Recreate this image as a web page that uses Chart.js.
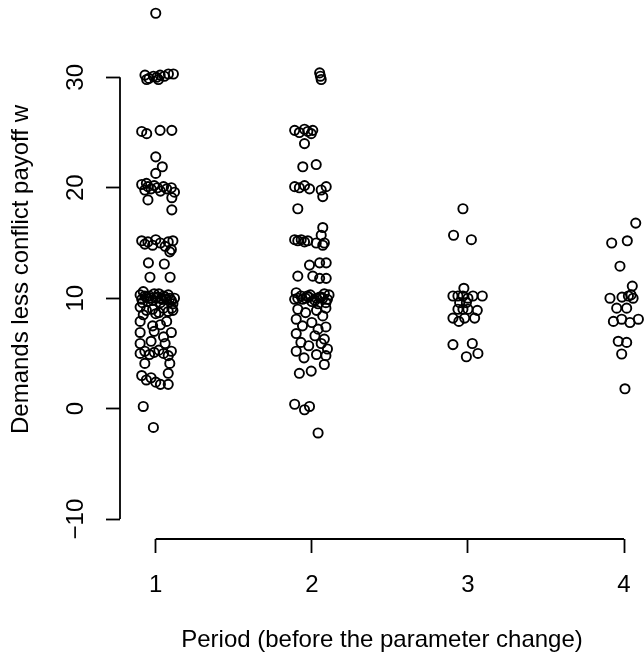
<html>
<head>
<title>Demands by period</title>
<style>
  body { margin: 0; background: #fff; }
  #wrap { width: 644px; height: 656px; position: relative; }
</style>
</head>
<body>
<div id="wrap"><canvas id="strip-chart"></canvas></div>
<script src="https://cdn.jsdelivr.net/npm/chart.js@4/dist/chart.umd.min.js"></script>
<script>
    // periods on the x axis and the y tick marks
    var periods = [1, 2, 3, 4];
    var yTicks = [-10, 0, 10, 20, 30];

    // demands less conflict payoff w, one list per period
    var period1Values = [35.8, 30.2, 29.9, 30.1, 30.0, 30.2, 30.1, 30.3, 30.3, 29.8, 29.8, 25.1, 24.9, 25.2, 25.2, 22.8, 21.9, 21.3,
        20.3, 19.8, 20.1, 19.9, 20.2, 20.0, 19.7, 20.1, 19.9, 20.0, 19.6, 20.4, 18.9, 19.1, 18.0,
        15.2, 14.9, 15.1, 14.8, 15.3, 15.0, 14.7, 15.1, 14.4, 15.2, 14.2, 13.2, 13.1, 11.9, 11.9,
        10.6, 10.3, 10.1, 9.9, 10.2, 9.8, 10.0, 10.4, 9.9, 10.1, 10.3, 9.8, 10.0, 10.2, 9.7, 10.0, 10.1, 9.6, 10.2, 9.9, 10.0, 9.5, 10.4, 10.0, 9.6,
        9.1, 9.2, 8.9, 9.0, 8.7, 9.1, 8.8, 8.5, 8.6, 8.9, 7.9, 7.9, 7.5, 7.6, 6.9, 7.0, 6.9, 6.5, 5.9, 6.1, 5.9,
        5.0, 5.2, 4.9, 5.1, 5.3, 5.0, 4.8, 5.2, 4.1, 4.1, 3.0, 2.6, 2.8, 2.4, 2.2, 3.2, 2.2, 0.2, -1.7];
    var period2Values = [30.4, 29.8, 30.1, 25.2, 25.0, 25.3, 25.1, 24.9, 25.2, 24.0, 21.9, 22.1,
        20.1, 20.0, 20.2, 19.9, 20.1, 19.8, 19.2, 18.1, 16.4, 15.7, 15.3, 15.2, 15.3, 15.1, 15.2, 15.0, 15.0, 14.8,
        13.0, 13.2, 13.2, 12.0, 12.0, 11.8, 11.8,
        10.5, 10.2, 9.9, 10.0, 10.3, 9.8, 10.1, 10.4, 9.9, 10.0, 10.2, 9.7, 10.0, 10.1, 9.6, 10.3, 9.9, 10.1, 9.5, 10.0,
        9.0, 9.1, 8.7, 8.9, 8.4, 8.1, 7.8, 7.5, 7.4, 7.2, 6.8, 6.6, 6.3, 6.0, 5.9, 5.7, 5.4, 5.2, 4.9, 4.8, 4.6,
        3.2, 3.4, 4.0, 0.4, -0.1, 0.2, -2.2];
    var period3Values = [18.1, 15.7, 15.3, 10.9, 10.2, 10.2, 10.2, 10.2, 10.2, 10.0, 9.6, 9.6, 9.0, 9.0, 9.0, 8.9,
        8.2, 7.9, 8.2, 8.2, 5.8, 5.9, 4.7, 5.0];
    var period4Values = [16.8, 15.0, 15.2, 12.9, 11.1, 10.0, 10.1, 10.2, 10.0, 10.3, 9.1, 9.1, 7.9, 8.1, 7.8, 8.1,
        6.1, 6.0, 4.95, 1.8];

    // horizontal jitter of each point around its period (same order as the values)
    var period1Jitter = [0.00, -0.069, -0.043, -0.015, 0.006, 0.028, 0.055, 0.081, 0.113, -0.058, 0.017, -0.09, -0.058, 0.028, 0.103, 0.0, 0.042, 0.0,
        -0.09, -0.07, -0.05, -0.03, -0.01, 0.01, 0.03, 0.05, 0.07, 0.10, 0.12, -0.06, -0.05, 0.103, 0.103,
        -0.09, -0.07, -0.05, -0.02, 0.0, 0.03, 0.06, 0.08, 0.10, 0.11, 0.09, -0.047, 0.055, -0.037, 0.092,
        -0.08, -0.1, -0.06, -0.09, -0.04, -0.02, 0.0, 0.02, 0.04, 0.06, 0.08, 0.10, 0.12, -0.07, -0.05, -0.03, 0.01, 0.03, 0.05, 0.07, 0.09, 0.11, -0.01, 0.035, -0.085,
        0.103, -0.1, -0.06, -0.02, 0.02, 0.05, 0.08, -0.08, 0.0, 0.11, -0.10, 0.07, -0.02, 0.03, -0.10, -0.01, 0.10, 0.05, -0.10, -0.03, 0.06,
        -0.10, -0.07, -0.04, -0.01, 0.02, 0.05, 0.08, 0.10, -0.07, 0.09, -0.09, -0.06, -0.03, 0.0, 0.03, 0.08, 0.08, -0.08, -0.015];
    var period2Jitter = [0.05, 0.06, 0.055, -0.11, -0.08, -0.047, -0.026, -0.004, 0.006, -0.047, -0.058, 0.028,
        -0.11, -0.08, -0.047, -0.015, 0.092, 0.06, 0.07, -0.09, 0.07, 0.06, -0.11, -0.09, -0.068, -0.047, -0.026, 0.028, 0.08, 0.07,
        -0.015, 0.05, 0.092, -0.09, 0.006, 0.05, 0.092,
        -0.1, -0.07, -0.11, -0.04, -0.01, 0.02, 0.05, 0.08, 0.10, -0.09, -0.03, 0.0, 0.03, 0.06, 0.09, 0.11, -0.06, -0.02, 0.04, 0.07,
        -0.09, 0.09, -0.04, 0.03, 0.07, -0.1, 0.0, -0.06, 0.09, 0.04, -0.1, 0.02, 0.08, -0.07, 0.06, -0.02, 0.1, -0.1, 0.03, 0.09, -0.05,
        -0.08, -0.004, 0.08, -0.11, -0.047, -0.015, 0.04];
    var period3Jitter = [-0.032, -0.092, 0.022, -0.026, -0.096, -0.064, -0.032, 0.032, 0.092, 0.0, -0.053, -0.01, -0.064, -0.032, 0.0, 0.06,
        -0.096, -0.058, -0.021, 0.043, -0.096, 0.028, -0.01, 0.064];
    var period4Jitter = [0.075, -0.079, 0.021, -0.026, 0.053, -0.09, -0.013, 0.028, 0.058, 0.045, -0.047, 0.017, -0.068, -0.015, 0.038, 0.092,
        -0.037, 0.017, -0.015, 0.006];

    var allValues = [period1Values, period2Values, period3Values, period4Values];
    var allJitter = [period1Jitter, period2Jitter, period3Jitter, period4Jitter];

    var font = "'Liberation Sans', Arial, Helvetica, sans-serif";

    var datasets = [];
    for (var p = 0; p < periods.length; p++) {
        var pts = [];
        for (var i = 0; i < allValues[p].length; i++) {
            pts.push({x: periods[p] + allJitter[p][i], y: allValues[p][i]});
        }
        datasets.push({
            label: "Period " + periods[p],
            data: pts,
            pointRadius: 4.6,
            pointHoverRadius: 4.6,
            pointBorderWidth: 1.9,
            borderColor: "#000",
            backgroundColor: "rgba(0,0,0,0)"
        });
    }

    // R style axis lines: only from the first to the last tick
    var axisLines = {
        id: 'axisLines',
        afterDraw: function (chart) {
            var ctx = chart.ctx;
            var xs = chart.scales.x, ys = chart.scales.y;
            ctx.save();
            ctx.strokeStyle = "#000";
            ctx.lineWidth = 1.8;
            ctx.beginPath();
            ctx.moveTo(ys.right, ys.getPixelForValue(yTicks[0]));
            ctx.lineTo(ys.right, ys.getPixelForValue(yTicks[yTicks.length - 1]));
            ctx.moveTo(xs.getPixelForValue(periods[0]), xs.top);
            ctx.lineTo(xs.getPixelForValue(periods[periods.length - 1]), xs.top);
            ctx.stroke();
            ctx.restore();
        }
    };

    var ctx = document.getElementById('strip-chart').getContext('2d');
    new Chart(ctx, {
        type: 'scatter',
        data: {datasets: datasets},
        plugins: [axisLines],
        options: {
            responsive: true,
            maintainAspectRatio: false,
            animation: false,
            layout: {padding: 0, autoPadding: false},
            plugins: {legend: {display: false}, tooltip: {enabled: false}},
            scales: {
                x: {
                    type: 'linear',
                    min: 0.771,
                    max: 4.128,
                    afterBuildTicks: function (s) { s.ticks = periods.map(function (v) { return {value: v}; }); },
                    afterFit: function (s) { s.height = 117; s.paddingLeft = 0; s.paddingRight = 0; },
                    border: {display: false},
                    grid: {drawOnChartArea: false, drawTicks: true, tickLength: 14, tickWidth: 1.8, tickColor: "#000"},
                    ticks: {color: "#000", padding: 18, maxRotation: 0, font: {family: font, size: 24}},
                    title: {display: true, text: "Period (before the parameter change)", color: "#000",
                        padding: {top: 0, bottom: 1}, font: {family: font, size: 24, lineHeight: 1.2}}
                },
                y: {
                    min: -11.8,
                    max: 37.0,
                    afterBuildTicks: function (s) { s.ticks = yTicks.map(function (v) { return {value: v}; }); },
                    afterFit: function (s) { s.width = 120; s.paddingTop = 0; s.paddingBottom = 0; },
                    border: {display: false},
                    grid: {drawOnChartArea: false, drawTicks: true, tickLength: 14, tickWidth: 1.8, tickColor: "#000"},
                    ticks: {
                        color: "#000", padding: 9, minRotation: 90, maxRotation: 90, crossAlign: 'center',
                        font: {family: font, size: 24},
                        callback: function (v) { return String(v).replace('-', '\u2212'); }
                    },
                    title: {display: true, text: "Demands less conflict payoff w", color: "#000",
                        padding: {top: 7, bottom: 0}, font: {family: font, size: 24, lineHeight: 1.2}}
                }
            }
        }
    });
</script>
</body>
</html>
